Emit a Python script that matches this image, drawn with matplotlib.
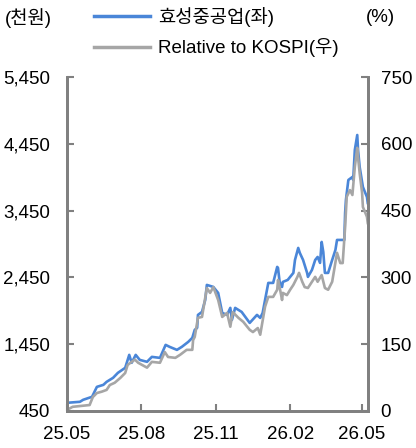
import pandas as pd
import matplotlib
matplotlib.use('Agg')
import matplotlib.pyplot as plt
import matplotlib.dates as mdates
from matplotlib.lines import Line2D

plt.rcParams['font.family'] = ['Liberation Sans', 'Noto Sans CJK KR']

# 효성중공업 share price (thousand won, left axis)
price_dates = ['2025-05-01', '2025-05-17', '2025-05-21', '2025-06-01', '2025-06-07', '2025-06-15',
               '2025-06-19', '2025-06-27', '2025-07-03', '2025-07-12', '2025-07-17', '2025-07-20',
               '2025-07-25', '2025-07-30', '2025-08-08', '2025-08-14', '2025-08-24', '2025-08-31',
               '2025-09-05', '2025-09-14', '2025-09-20', '2025-09-28', '2025-10-03', '2025-10-06',
               '2025-10-09', '2025-10-10', '2025-10-15', '2025-10-19', '2025-10-21', '2025-10-29',
               '2025-11-04', '2025-11-09', '2025-11-15', '2025-11-19', '2025-11-21', '2025-11-25',
               '2025-12-03', '2025-12-13', '2025-12-22', '2025-12-26', '2025-12-29', '2026-01-01',
               '2026-01-05', '2026-01-11', '2026-01-16', '2026-01-17', '2026-01-19', '2026-01-22',
               '2026-01-23', '2026-01-29', '2026-02-05', '2026-02-07', '2026-02-11', '2026-02-13',
               '2026-02-17', '2026-02-22', '2026-02-23', '2026-02-28', '2026-03-04', '2026-03-07',
               '2026-03-10', '2026-03-12', '2026-03-14', '2026-03-16', '2026-03-20', '2026-03-25',
               '2026-03-29', '2026-03-31', '2026-04-06', '2026-04-09', '2026-04-10', '2026-04-11',
               '2026-04-14', '2026-04-19', '2026-04-20', '2026-04-22', '2026-04-25', '2026-04-26',
               '2026-04-28', '2026-05-02', '2026-05-05', '2026-05-07', '2026-05-08']
price = [570, 585, 615, 660, 809, 839,
         884, 944, 1019, 1094, 1288, 1169,
         1288, 1213, 1184, 1258, 1243, 1438,
         1408, 1363, 1408, 1483, 1543, 1663,
         1693, 1887, 1932, 2112, 2336, 2306,
         2216, 1917, 1887, 1992, 1812, 1992,
         1932, 1767, 1887, 1842, 1917, 2112,
         2366, 2366, 2606, 2591, 2381, 2306,
         2381, 2411, 2516, 2710, 2890, 2815,
         2710, 2516, 2456, 2561, 2710, 2755,
         2666, 2980, 2830, 2516, 2516, 2710,
         2860, 3010, 3010, 3010, 3414, 3609,
         3908, 3953, 3908, 4357, 4582, 4357,
         4103, 3803, 3713, 3654, 3564]

# Relative to KOSPI (%, right axis)
rel_dates = ['2025-05-01', '2025-05-08', '2025-05-29', '2025-06-02', '2025-06-07', '2025-06-13',
             '2025-06-19', '2025-06-23', '2025-06-29', '2025-07-06', '2025-07-12', '2025-07-15',
             '2025-07-20', '2025-07-24', '2025-07-28', '2025-08-08', '2025-08-14', '2025-08-24',
             '2025-08-30', '2025-09-03', '2025-09-12', '2025-09-18', '2025-09-26', '2025-10-03',
             '2025-10-04', '2025-10-06', '2025-10-10', '2025-10-15', '2025-10-21', '2025-10-25',
             '2025-10-29', '2025-11-04', '2025-11-09', '2025-11-15', '2025-11-19', '2025-11-22',
             '2025-11-29', '2025-12-05', '2025-12-13', '2025-12-17', '2025-12-23', '2025-12-26',
             '2026-01-01', '2026-01-05', '2026-01-11', '2026-01-16', '2026-01-17', '2026-01-19',
             '2026-01-22', '2026-01-23', '2026-01-28', '2026-02-01', '2026-02-05', '2026-02-10',
             '2026-02-12', '2026-02-16', '2026-02-19', '2026-02-23', '2026-02-28', '2026-03-04',
             '2026-03-07', '2026-03-12', '2026-03-16', '2026-03-20', '2026-03-25', '2026-03-31',
             '2026-04-04', '2026-04-07', '2026-04-10', '2026-04-12', '2026-04-16', '2026-04-19',
             '2026-04-22', '2026-04-25', '2026-04-26', '2026-04-28', '2026-05-01', '2026-05-02',
             '2026-05-05', '2026-05-07', '2026-05-08']
rel = [2, 9, 13, 31, 40, 43,
       47, 58, 63, 74, 85, 103,
       110, 115, 108, 97, 110, 108,
       132, 121, 119, 126, 137, 137,
       159, 166, 209, 211, 276, 265,
       278, 249, 211, 220, 189, 222,
       209, 200, 182, 177, 186, 171,
       234, 256, 256, 272, 294, 278,
       249, 265, 260, 272, 283, 301,
       310, 290, 278, 276, 290, 301,
       290, 305, 276, 272, 290, 355,
       332, 332, 413, 481, 496, 485,
       548, 591, 570, 534, 490, 458,
       445, 436, 422]

left_ticks = [450, 1450, 2450, 3450, 4450, 5450]
right_ticks = [0, 150, 300, 450, 600, 750]
x_ticks = ['2025-05-01', '2025-08-01', '2025-11-01', '2026-02-01', '2026-05-01']

blue = '#4a86d8'
grey = '#a6a6a6'
spine_col = '#808080'
fs = 13.5

fig = plt.figure(figsize=(4.16, 4.48), dpi=100)
ax = fig.add_axes([0.161, 0.083, 0.724, 0.745])
ax2 = ax.twinx()

ax.plot(pd.to_datetime(price_dates), price, color=blue, lw=1.9)
ax2.plot(pd.to_datetime(rel_dates), rel, color=grey, lw=1.9)

ax.set_xlim(pd.Timestamp('2025-05-01'), pd.Timestamp('2026-05-08 12:00'))
ax.set_ylim(450, 5450)
ax2.set_ylim(0, 750)
ax.set_yticks(left_ticks)
ax.set_yticklabels([f'{v:,}' for v in left_ticks])
ax2.set_yticks(right_ticks)
ax.set_xticks(pd.to_datetime(x_ticks))
ax.xaxis.set_major_formatter(mdates.DateFormatter('%y.%m'))

for a in (ax, ax2):
    for s in a.spines.values():
        s.set_color(spine_col)
        s.set_linewidth(2)
    a.spines['top'].set_visible(False)
    a.tick_params(direction='in', length=5, width=1.5, color=spine_col, labelsize=fs, labelcolor='black')
ax.tick_params(axis='y', pad=12)
ax.tick_params(axis='x', pad=11)
ax2.tick_params(axis='y', pad=9)

fig.text(0.012, 0.96, '(천원)', fontsize=fs, va='center', ha='left')
fig.text(0.95, 0.96, '(%)', fontsize=fs, va='center', ha='right')

handles = [Line2D([], [], color=blue, lw=2.5), Line2D([], [], color=grey, lw=2.5)]
fig.legend(handles, ['효성중공업(좌)', 'Relative to KOSPI(우)'], loc='upper left',
           bbox_to_anchor=(0.19, 1.018), frameon=False, fontsize=fs,
           handlelength=3.0, handletextpad=0.4, labelspacing=0.6, borderpad=0.3)

fig.savefig('out.png', dpi=100)
